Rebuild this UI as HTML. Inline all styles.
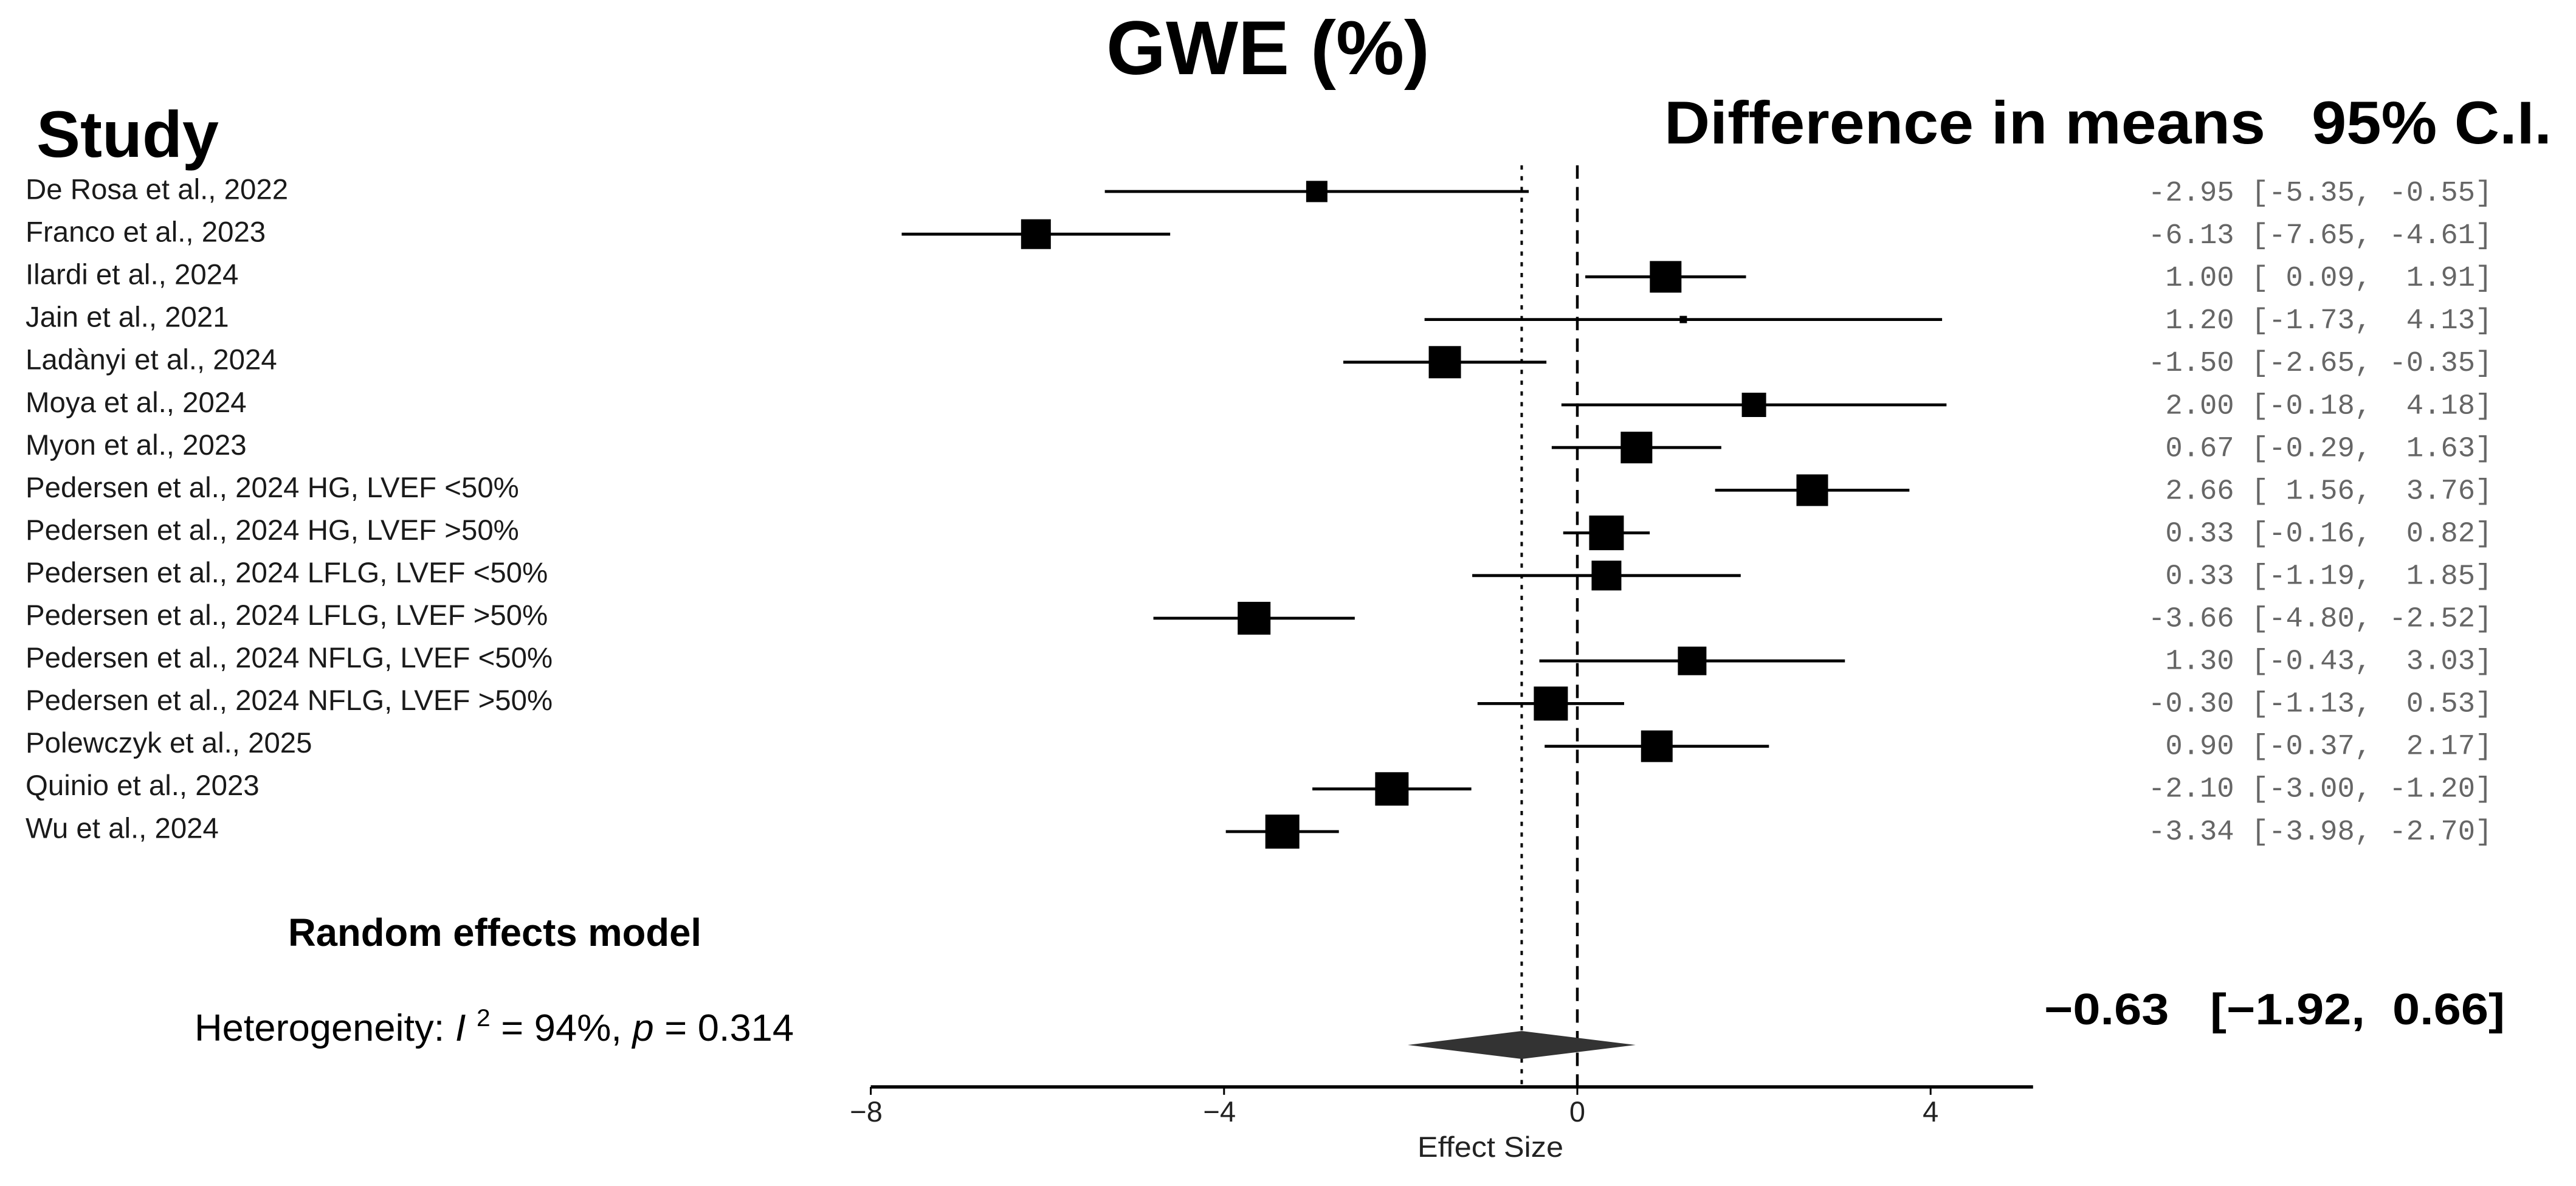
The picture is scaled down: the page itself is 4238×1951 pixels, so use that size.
<!DOCTYPE html>
<html lang="en">
<head>
<meta charset="utf-8">
<title>GWE (%) forest plot</title>
<style>
html,body{margin:0;padding:0;background:#fff;}
svg{display:block;}
text{font-family:"Liberation Sans",Arial,sans-serif;white-space:pre;}
.val{font-family:"Liberation Mono","Courier New",monospace;}
</style>
</head>
<body>
<svg id="plot" xmlns="http://www.w3.org/2000/svg" width="4238" height="1951" viewBox="0 0 4238 1951">
<rect x="0" y="0" width="4238" height="1951" fill="#fff"/>
<text x="1820" y="122" font-size="125" font-weight="700" fill="#000" textLength="532" lengthAdjust="spacingAndGlyphs">GWE (%)</text>
<text x="60" y="258" font-size="108" font-weight="700" fill="#000" textLength="300" lengthAdjust="spacingAndGlyphs">Study</text>
<text x="2738" y="236" font-size="99" font-weight="700" fill="#000" textLength="989" lengthAdjust="spacingAndGlyphs">Difference in means</text>
<text x="3803" y="236" font-size="99" font-weight="700" fill="#000" textLength="395" lengthAdjust="spacingAndGlyphs">95% C.I.</text>
<text x="474" y="1556" font-size="64" font-weight="700" fill="#000" textLength="680" lengthAdjust="spacingAndGlyphs">Random effects model</text>
<text x="320" y="1712" font-size="62" fill="#000" textLength="986" lengthAdjust="spacingAndGlyphs">Heterogeneity: <tspan font-style="italic">I</tspan> <tspan font-size="40" dy="-24">2</tspan><tspan dy="24"> = 94%, </tspan><tspan font-style="italic">p</tspan> = 0.314</text>
<text x="3363" y="1685" font-size="72" font-weight="700" fill="#000" textLength="758" lengthAdjust="spacingAndGlyphs">−0.63   [−1.92,  0.66]</text>
<text x="2332" y="1903" font-size="47" fill="#222" textLength="240" lengthAdjust="spacingAndGlyphs">Effect Size</text>
<g id="refs"></g>
<g id="rows"></g>
<g id="pooled"></g>
<g id="axis"></g>
</svg>
<script>
const studies = ["De Rosa et al., 2022","Franco et al., 2023","Ilardi et al., 2024","Jain et al., 2021","Ladànyi et al., 2024","Moya et al., 2024","Myon et al., 2023","Pedersen et al., 2024 HG, LVEF <50%","Pedersen et al., 2024 HG, LVEF >50%","Pedersen et al., 2024 LFLG, LVEF <50%","Pedersen et al., 2024 LFLG, LVEF >50%","Pedersen et al., 2024 NFLG, LVEF <50%","Pedersen et al., 2024 NFLG, LVEF >50%","Polewczyk et al., 2025","Quinio et al., 2023","Wu et al., 2024"];
const means = [-2.95,-6.13,1.00,1.20,-1.50,2.00,0.67,2.66,0.33,0.33,-3.66,1.30,-0.30,0.90,-2.10,-3.34];
const lowers = [-5.35,-7.65,0.09,-1.73,-2.65,-0.18,-0.29,1.56,-0.16,-1.19,-4.80,-0.43,-1.13,-0.37,-3.00,-3.98];
const uppers = [-0.55,-4.61,1.91,4.13,-0.35,4.18,1.63,3.76,0.82,1.85,-2.52,3.03,0.53,2.17,-1.20,-2.70];
const weights = [35,49,52,12,53,40,52,52,57,49,54,47,56,52,55,56];
const pooledMean = -0.63;
const pooledLower = -1.92;
const pooledUpper = 0.66;
const xTicks = [-8,-4,0,4];

const NS = "http://www.w3.org/2000/svg";
const xScale = v => 2595 + v * 145.3;
const yScale = i => 315 + i * 70.2;
const labelY = i => 327.5 + i * 70.05;
const valueY = i => 330 + i * 70.05;
const axisY = 1788;
const axisEnd = 5.16;

function mk(tag, parent, attrs, txt) {
  const el = document.createElementNS(NS, tag);
  for (const k in attrs) el.setAttribute(k, attrs[k]);
  if (txt !== undefined) el.textContent = txt;
  parent.appendChild(el);
  return el;
}
const fmt = (v, n) => v.toFixed(2).padStart(n, " ");

const refs = document.getElementById("refs");
const zeroLine = mk("line", refs, {x1:xScale(0),x2:xScale(0),y1:272,y2:1801,stroke:"#000","stroke-width":4.5,"stroke-dasharray":"22 13.6"});


const meanLine = mk("line", refs, {x1:xScale(pooledMean),x2:xScale(pooledMean),y1:272,y2:axisY,stroke:"#000","stroke-width":4,"stroke-dasharray":"7 10.7"});



const rows = document.getElementById("rows");
studies.forEach((name, i) => {
  const y = yScale(i);
  const label = mk("text", rows, {x:42,y:labelY(i),"font-size":47.4,fill:"#1a1a1a"}, name);
  
  
  const ci = mk("line", rows, {x1:xScale(lowers[i]),x2:xScale(uppers[i]),y1:y,y2:y,stroke:"#000","stroke-width":4.8});
  
  
  const s = weights[i];
  const box = mk("rect", rows, {x:xScale(means[i])-s/2,y:y-s/2,width:s,height:s,fill:"#000"});
  
  
  const printed = fmt(means[i],5) + " [" + fmt(lowers[i],5) + ", " + fmt(uppers[i],5) + "]";
  const val = mk("text", rows, {class:"val",x:3534,y:valueY(i),"font-size":47.2,fill:"#666"}, printed);
  
  
});

const pooled = document.getElementById("pooled");
const py = 1719;
const dia = mk("polygon", pooled, {points:[[xScale(pooledLower),py],[xScale(pooledMean),py-23],[xScale(pooledUpper),py],[xScale(pooledMean),py+23]].map(p=>p.join(",")).join(" "),fill:"#333"});



const axis = document.getElementById("axis");
const axisLine = mk("line", axis, {x1:xScale(xTicks[0]),x2:xScale(axisEnd),y1:axisY,y2:axisY,stroke:"#000","stroke-width":5.5});


xTicks.forEach(t => {
  const tick = mk("line", axis, {x1:xScale(t),x2:xScale(t),y1:axisY,y2:axisY+13,stroke:"#000","stroke-width":3});
  
  
  const lab = mk("text", axis, {x:xScale(t)+(t<0?-7.5:0),y:1845,"font-size":47,fill:"#222","text-anchor":"middle"}, String(t).replace("-","−"));
  
  
});
</script>
</body>
</html>
